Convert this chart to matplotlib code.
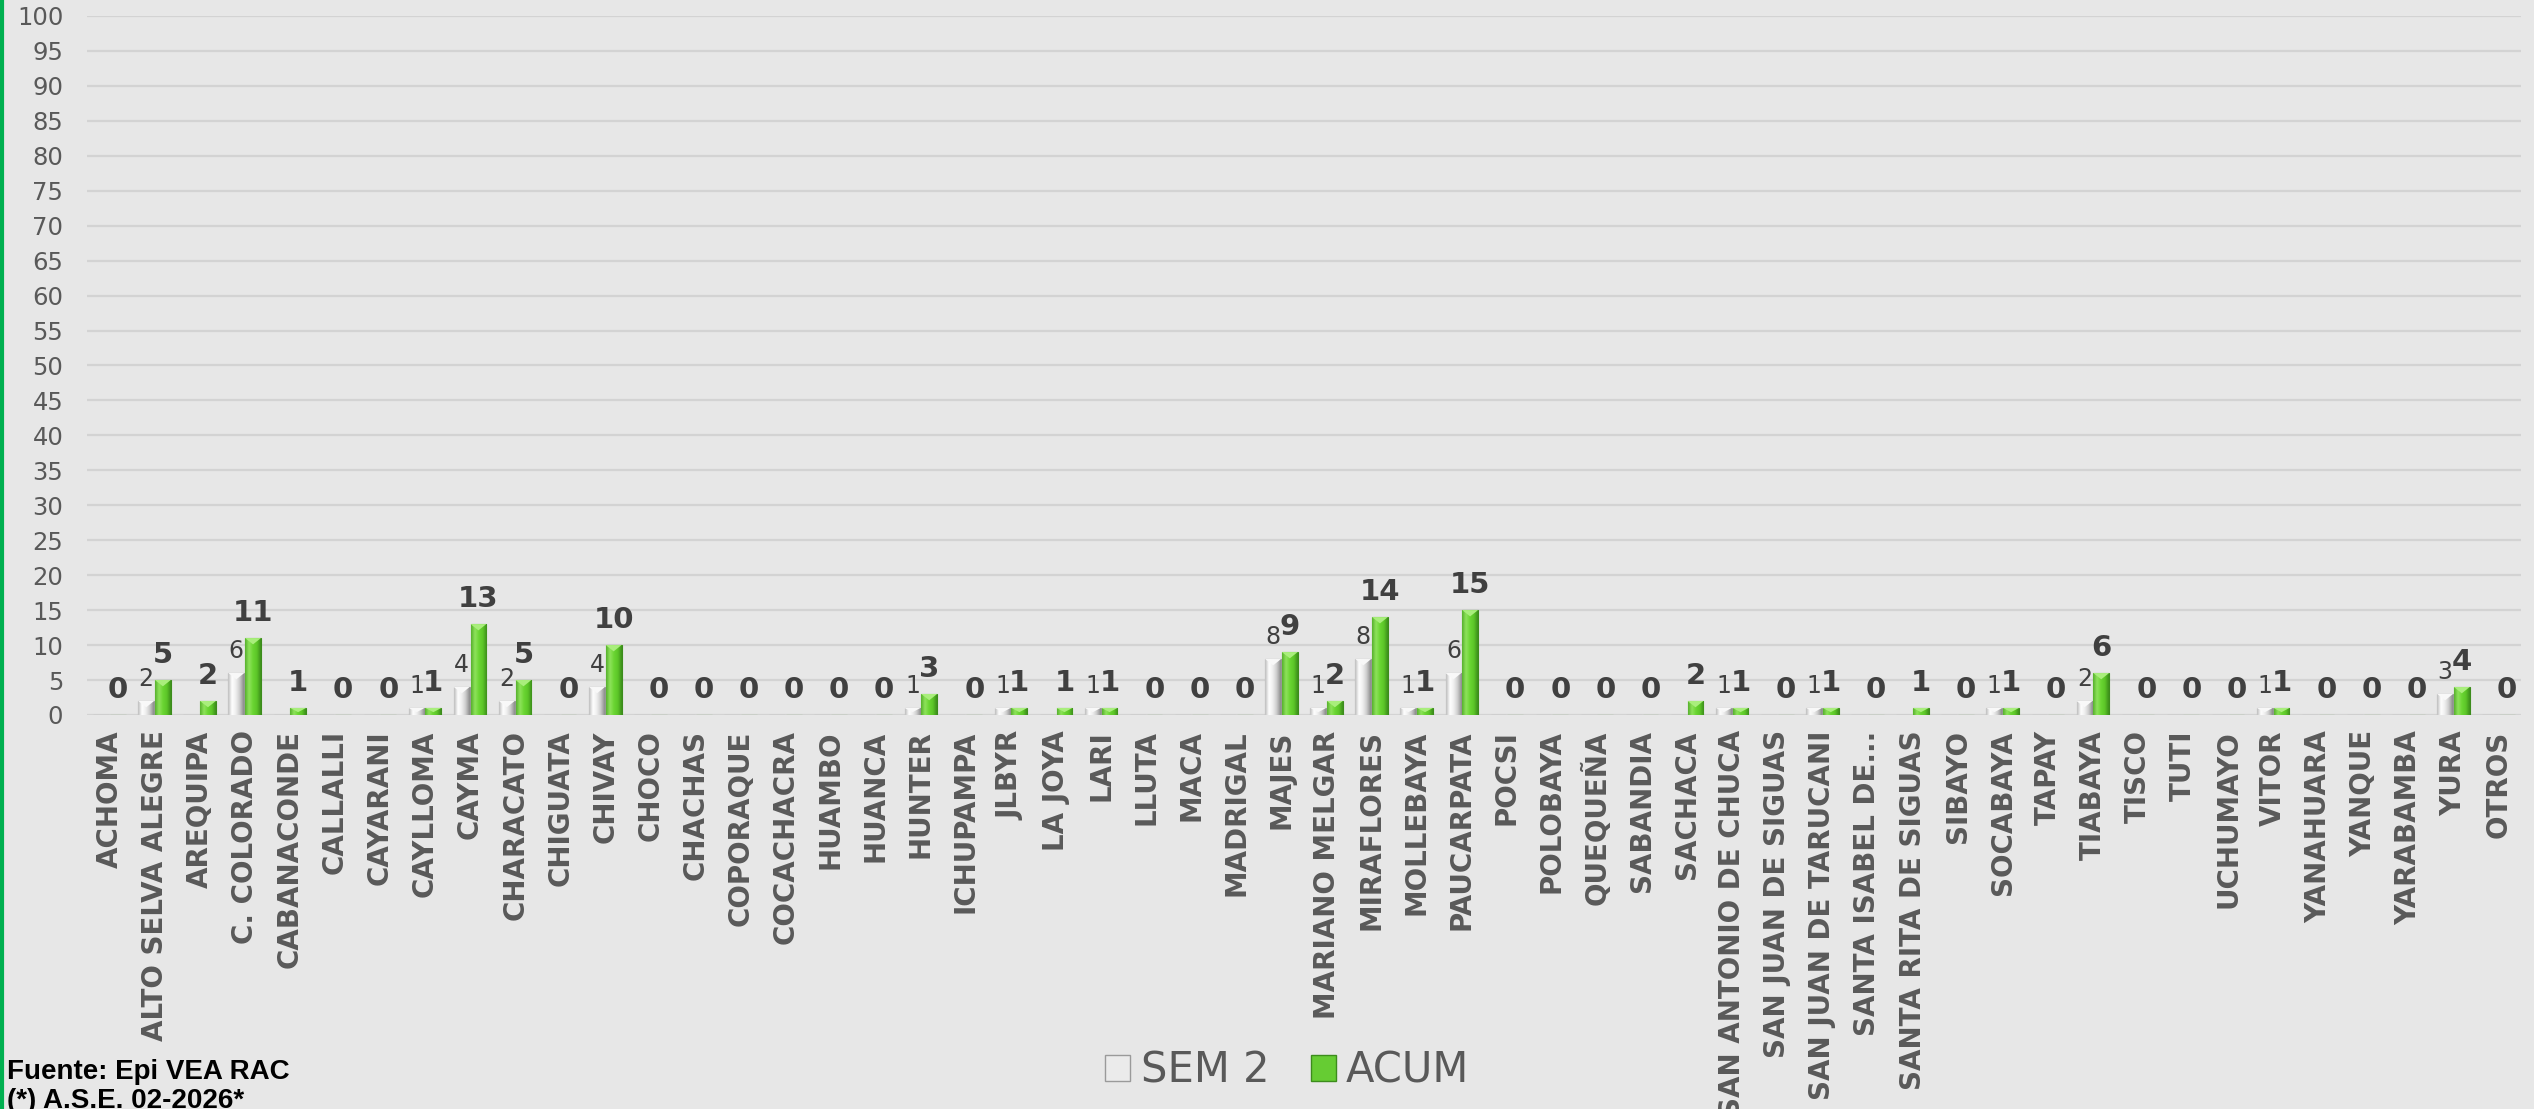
import numpy as np
import matplotlib.pyplot as plt
from matplotlib.colors import LinearSegmentedColormap
from matplotlib.patches import Patch, Polygon
from matplotlib.lines import Line2D

distritos = ["ACHOMA", "ALTO SELVA ALEGRE", "AREQUIPA", "C. COLORADO", "CABANACONDE",
             "CALLALLI", "CAYARANI", "CAYLLOMA", "CAYMA", "CHARACATO", "CHIGUATA",
             "CHIVAY", "CHOCO", "CHACHAS", "COPORAQUE", "COCACHACRA", "HUAMBO",
             "HUANCA", "HUNTER", "ICHUPAMPA", "JLBYR", "LA JOYA", "LARI", "LLUTA",
             "MACA", "MADRIGAL", "MAJES", "MARIANO MELGAR", "MIRAFLORES", "MOLLEBAYA",
             "PAUCARPATA", "POCSI", "POLOBAYA", "QUEQUEÑA", "SABANDIA", "SACHACA",
             "SAN ANTONIO DE CHUCA", "SAN JUAN DE SIGUAS", "SAN JUAN DE TARUCANI",
             "SANTA ISABEL DE...", "SANTA RITA DE SIGUAS", "SIBAYO", "SOCABAYA",
             "TAPAY", "TIABAYA", "TISCO", "TUTI", "UCHUMAYO", "VITOR", "YANAHUARA",
             "YANQUE", "YARABAMBA", "YURA", "OTROS"]
sem2 = [0, 2, 0, 6, 0, 0, 0, 1, 4, 2, 0, 4, 0, 0, 0, 0, 0, 0, 1, 0, 1, 0, 1, 0,
        0, 0, 8, 1, 8, 1, 6, 0, 0, 0, 0, 0, 1, 0, 1, 0, 0, 0, 1, 0, 2, 0, 0, 0,
        1, 0, 0, 0, 3, 0]
acum = [0, 5, 2, 11, 1, 0, 0, 1, 13, 5, 0, 10, 0, 0, 0, 0, 0, 0, 3, 0, 1, 1, 1, 0,
        0, 0, 9, 2, 14, 1, 15, 0, 0, 0, 0, 2, 1, 0, 1, 0, 1, 0, 1, 0, 6, 0, 0, 0,
        1, 0, 0, 0, 4, 0]

fondo = '#e7e7e7'
fig = plt.figure(figsize=(25.34, 11.09), dpi=100, facecolor=fondo)
ax = fig.add_axes([0.0343, 0.3553, 0.9606, 0.6303])
ax.set_facecolor(fondo)

x = np.arange(len(distritos))
w = 0.35
b1 = ax.bar(x - w / 2 - 0.01, sem2, w, color='#e6e6e6', edgecolor='#9a9a9a', lw=0.8, zorder=4)
b2 = ax.bar(x + w / 2 + 0.01, acum, w, color='#66cc33', edgecolor='#3c8c1c', lw=0.8, zorder=4)

# degradado tipo excel
gris = LinearSegmentedColormap.from_list('gris', ['#bdbdbd', '#ffffff', '#eeeeee', '#cacaca', '#8a8a8a'])
verde = LinearSegmentedColormap.from_list('verde', ['#56b02c', '#8fe35c', '#6ad532', '#5cc628', '#3d8e1b'])
grad = np.linspace(0, 1, 64).reshape(1, -1)
for bars, cm, tri in ((b1, gris, '#f8f8f8'), (b2, verde, '#a9ee7c')):
    for p in bars:
        h = p.get_height()
        if h <= 0:
            continue
        x0 = p.get_x()
        x1 = x0 + p.get_width()
        ax.imshow(grad, extent=(x0, x1, 0, h), aspect='auto', cmap=cm, zorder=4.5,
                  interpolation='bicubic')
        th = min(0.9, h * 0.6)
        ax.add_patch(Polygon([(x0, h), (x1, h), ((x0 + x1) / 2, h - th)],
                             closed=True, fc=tri, ec='none', zorder=5))

for xi, v in zip(x, sem2):
    if v > 0:
        ax.annotate(str(v), (xi - w / 2 - 0.01, v), xytext=(0, 11), textcoords='offset points',
                    ha='center', va='baseline', fontsize=17, color='#404040')
for xi, v in zip(x, acum):
    ax.annotate(str(v), (xi + w / 2 + 0.01, v), xytext=(0, 12), textcoords='offset points',
                ha='center', va='baseline', fontsize=21, fontweight='bold', color='#404040')

ax.set_xlim(-0.5, len(distritos) - 0.5)
ax.set_ylim(0, 100)
ax.set_yticks(range(0, 101, 5))
ax.yaxis.grid(True, color='#d3d3d3', lw=1.6)
ax.set_axisbelow(True)
for s in ax.spines.values():
    s.set_visible(False)
ax.set_xticks(x)
ax.set_xticklabels(distritos, rotation=90, fontsize=20, fontweight='bold', color='#595959', va='top')
ax.tick_params(axis='x', length=0, pad=11)
ax.tick_params(axis='y', length=0, pad=17, labelsize=17.5, labelcolor='#595959')

handles = [Patch(facecolor='#ebebeb', edgecolor='#9a9a9a'),
           Patch(facecolor='#66cc33', edgecolor='#3c8c1c')]
fig.legend(handles, ['SEM 2', 'ACUM'], loc='center', bbox_to_anchor=(0.508, 0.0345), ncol=2,
           frameon=False, fontsize=30, handlelength=0.6, handleheight=0.6,
           handletextpad=0.25, columnspacing=1.0, labelcolor='#595959')

fig.text(7 / 2534, 1 - 1079 / 1109, 'Fuente: Epi VEA RAC', fontsize=20, fontweight='bold',
         family='Liberation Sans', va='baseline', color='black')
fig.text(7 / 2534, 1 - 1108 / 1109, '(*) A.S.E. 02-2026*', fontsize=20, fontweight='bold',
         family='Liberation Sans', va='baseline', color='black')

fig.add_artist(Line2D([0.0008, 0.0008], [0, 1], transform=fig.transFigure, color='#00b050', lw=3))

fig.savefig('out.png', dpi=100, facecolor=fig.get_facecolor())
